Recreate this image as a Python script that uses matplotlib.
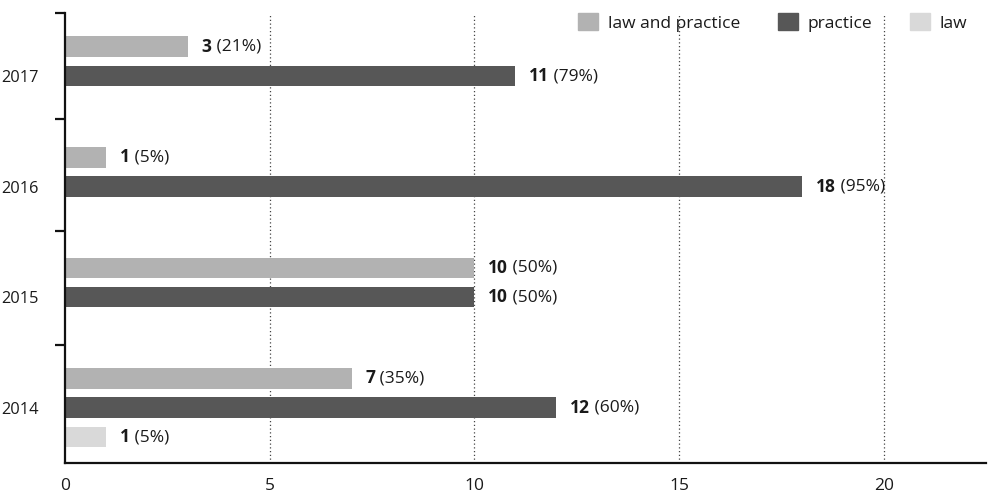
import matplotlib
matplotlib.use("Agg")
import matplotlib.pyplot as plt
from matplotlib.patches import Patch

plt.rcParams['font.family'] = ['Open Sans', 'DejaVu Sans']

years = ["2014", "2015", "2016", "2017"]
law_and_practice = [7, 10, 1, 3]
law_and_practice_pct = [35, 50, 5, 21]
practice = [12, 10, 18, 11]
practice_pct = [60, 50, 95, 79]
law = [1, 0, 0, 0]
law_pct = [5, 0, 0, 0]
x_ticks = [0, 5, 10, 15, 20]

c_lap = "#b2b2b2"
c_pr = "#575757"
c_law = "#d9d9d9"
txt = "#1a1a1a"
fs = 12.5

fig = plt.figure(figsize=(9.88, 4.98), dpi=100)
ax = fig.add_axes([65 / 988, 35 / 498, 921 / 988, 450 / 498])

pos = list(range(len(years)))
off = 0.265
h = 0.185

series = [
    (law_and_practice, law_and_practice_pct, +off, c_lap, "law and practice"),
    (practice, practice_pct, 0.0, c_pr, "practice"),
    (law, law_pct, -off, c_law, "law"),
]

for vals, pcts, o, col, name in series:
    for p, v, pc in zip(pos, vals, pcts):
        if v == 0:
            continue
        ax.barh(p + o, v, height=h, color=col, zorder=2)
        t1 = ax.annotate(str(v), xy=(v, p + o), xytext=(10, 0),
                         textcoords="offset points", va="center", ha="left",
                         fontsize=fs, fontweight="bold", color=txt)
        ax.annotate(f" ({pc}%)", xy=(1, 0.5), xycoords=t1, va="center",
                    ha="left", fontsize=fs, color=txt)

ax.set_xlim(0, 22.5)
ax.set_ylim(-0.5, 3.57)

ax.set_xticks(x_ticks)
ax.set_xticklabels([str(t) for t in x_ticks])
ax.tick_params(axis="x", length=0, pad=11, labelsize=fs, labelcolor=txt)

ax.set_yticks(pos)
ax.set_yticklabels(years)
ax.tick_params(axis="y", which="major", length=0, pad=19, labelsize=11.8,
               labelcolor=txt)
ax.set_yticks([0.57, 1.6, 2.61, 3.57], minor=True)
ax.tick_params(axis="y", which="minor", length=7, width=1.6, color="#111111")

for x in x_ticks[1:]:
    ax.axvline(x, color="#444444", linestyle=(0, (1, 2)), linewidth=0.9,
               zorder=1)

for s in ["top", "right"]:
    ax.spines[s].set_visible(False)
for s in ["left", "bottom"]:
    ax.spines[s].set_linewidth(1.6)
    ax.spines[s].set_color("#111111")

handles = [Patch(color=c_lap), Patch(color=c_pr), Patch(color=c_law)]
fig.legend(handles, ["law and practice", "practice", "law"], ncol=3,
           loc="upper right", bbox_to_anchor=(0.995, 1.005), frameon=False,
           handlelength=1.15, handleheight=1.15, handletextpad=0.55,
           columnspacing=2.2, fontsize=fs, labelcolor=txt)

fig.savefig("out.png", dpi=100)
